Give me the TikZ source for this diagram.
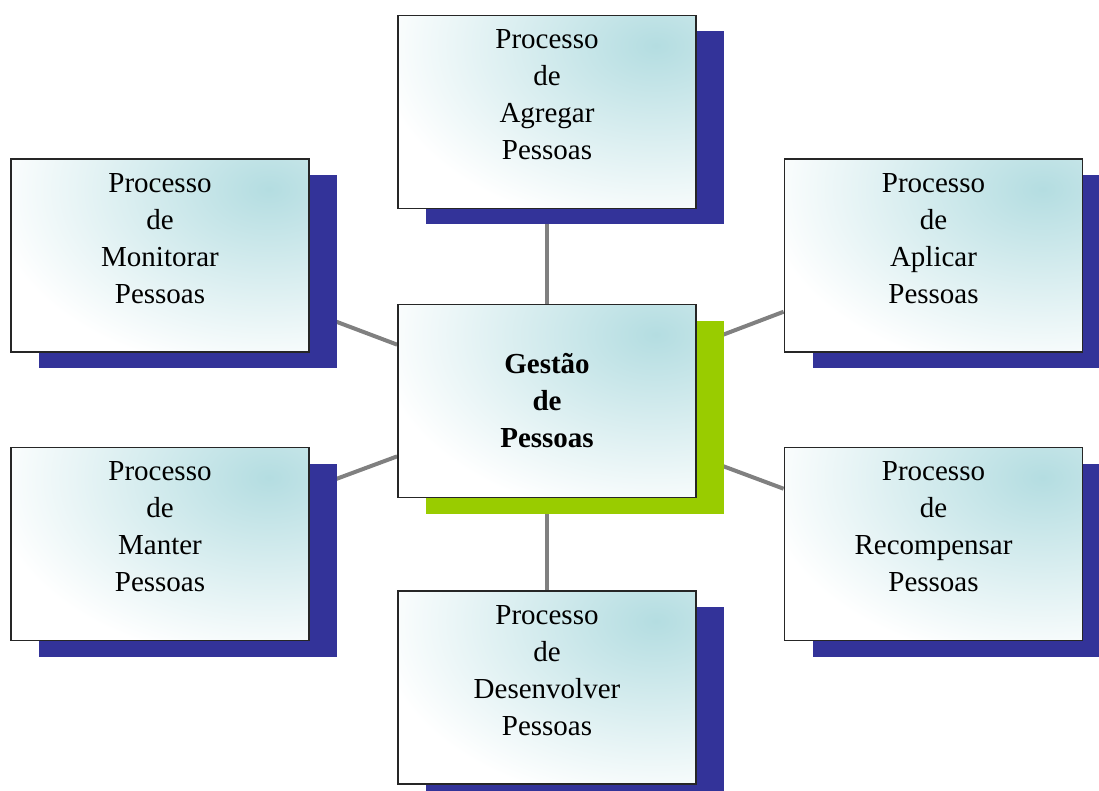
\documentclass[tikz,border=0pt]{standalone}
\usepackage{fontspec}
\setmainfont{Liberation Serif}
\usetikzlibrary{shadows,backgrounds}
\definecolor{tealc}{RGB}{180,221,225}
\definecolor{navyc}{RGB}{51,51,153}
\definecolor{greenc}{RGB}{153,204,0}
\definecolor{linec}{RGB}{128,128,128}
\tikzset{
 procbox/.style={draw=black!85, line width=1.8pt, minimum width=298pt, minimum height=193pt,
   inner sep=0pt, fill=white,
   path picture={\shade[inner color=tealc, outer color=white]
     ([xshift=-40pt,yshift=-30pt]path picture bounding box.north east) ellipse [x radius=280pt, y radius=185pt];},
   general shadow={fill=#1, shadow xshift=28pt, shadow yshift=-16pt}},
 procbox/.default=navyc,
 proctext/.style={font=\fontsize{29}{37}\selectfont, align=center, inner sep=0pt, anchor=north},
 conn/.style={draw=linec, line width=4pt}
}
\begin{document}
\begin{tikzpicture}[x=1pt,y=1pt]
\useasboundingbox (0,0) rectangle (1099,-791);
\clip (0,0) rectangle (1099,-791);
\node[procbox] (t) at (547,-112) {};
\node[procbox] (lt) at (160,-255.5) {};
\node[procbox] (rt) at (933.5,-255.5) {};
\node[procbox] (lb) at (160,-544) {};
\node[procbox] (rb) at (933.5,-544) {};
\node[procbox] (b) at (547,-687.5) {};
\node[procbox=greenc, font=\bfseries\fontsize{29}{37}\selectfont, align=center] (c) at (547,-401) {Gestão\\de\\Pessoas};
\node[proctext] (t-txt) at ([yshift=-15pt]t.north) {Processo\\de\\Agregar\\Pessoas};
\node[proctext] (lt-txt) at ([yshift=-15pt]lt.north) {Processo\\de\\Monitorar\\Pessoas};
\node[proctext] (rt-txt) at ([yshift=-15pt]rt.north) {Processo\\de\\Aplicar\\Pessoas};
\node[proctext] (lb-txt) at ([yshift=-15pt]lb.north) {Processo\\de\\Manter\\Pessoas};
\node[proctext] (rb-txt) at ([yshift=-15pt]rb.north) {Processo\\de\\Recompensar\\Pessoas};
\node[proctext] (b-txt) at ([yshift=-15pt]b.north) {Processo\\de\\Desenvolver\\Pessoas};
\begin{scope}[on background layer]
\draw[conn] (c) -- (t);
\draw[conn] (c) -- (lt);
\draw[conn] (c) -- (rt);
\draw[conn] (c) -- (lb);
\draw[conn] (c) -- (rb);
\draw[conn] (c) -- (b);
\end{scope}
\end{tikzpicture}
\end{document}
